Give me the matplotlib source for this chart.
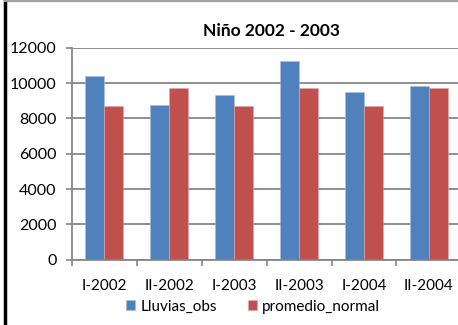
import numpy as np
import matplotlib.pyplot as plt
from matplotlib.lines import Line2D

periods = ["I-2002", "II-2002", "I-2003", "II-2003", "I-2004", "II-2004"]
lluvias_obs = [10400, 8750, 9330, 11250, 9520, 9820]
promedio_normal = [8680, 9740, 8680, 9740, 8680, 9740]
y_ticks = [0, 2000, 4000, 6000, 8000, 10000, 12000]

blue = "#4F81BD"
red = "#C0504D"
grid_c = "#868686"

plt.rcParams['font.family'] = ['Lato', 'DejaVu Sans']

fig = plt.figure(figsize=(4.58, 3.25), dpi=100)
ax = fig.add_axes([72 / 458, 1 - 259.7 / 325, 389.4 / 458, 212 / 325])

x = np.arange(len(periods))
w = 0.293
ax.bar(x - w / 2, lluvias_obs, w, color=blue, edgecolor="#a8c0e0", linewidth=0.4,
       label="Lluvias_obs", zorder=3)
ax.bar(x + w / 2, promedio_normal, w, color=red, edgecolor="#e0a8a6", linewidth=0.4,
       label="promedio_normal", zorder=3)

ax.set_xlim(-0.5, len(periods) - 0.5)
ax.set_ylim(0, 12000)
ax.set_yticks(y_ticks)
ax.set_yticklabels([str(v) for v in y_ticks])
ax.yaxis.grid(True, color=grid_c, linewidth=1.3, zorder=0)

# ticks between categories, labels centred on categories
ax.set_xticks(np.arange(len(periods) + 1) - 0.5)
ax.set_xticklabels([])
ax.set_xticks(x, minor=True)
ax.set_xticklabels(periods, minor=True)
ax.tick_params(axis="x", which="major", length=4, width=1.2, color=grid_c, direction="out")
ax.tick_params(axis="x", which="minor", length=0, pad=14, labelsize=11)
ax.tick_params(axis="y", length=4, width=1.2, color=grid_c, pad=7, labelsize=11.5)

for s in ["top", "right"]:
    ax.spines[s].set_visible(False)
for s in ["left", "bottom"]:
    ax.spines[s].set_color(grid_c)
    ax.spines[s].set_linewidth(1.3)
    ax.spines[s].set_zorder(4)

fig.text(271.5 / 458, 1 - 30.7 / 325, "Niño 2002 - 2003", ha="center", va="center",
         fontsize=12.5, fontweight="bold")

fig.legend(loc="center", bbox_to_anchor=(253 / 458, 1 - 306.7 / 325), ncol=2, frameon=False,
           fontsize=11, handlelength=0.6, handleheight=0.6, handletextpad=0.35,
           columnspacing=2.0, borderpad=0)

# chart border pieces visible in the crop
fig.add_artist(Line2D([4.5 / 458, 4.5 / 458], [0, 1], color="black", linewidth=2.5))
fig.add_artist(Line2D([5 / 458, 1], [1 - 1 / 325, 1 - 1 / 325], color="#a0a0a0", linewidth=1.6))

fig.savefig("out.png", dpi=100)
